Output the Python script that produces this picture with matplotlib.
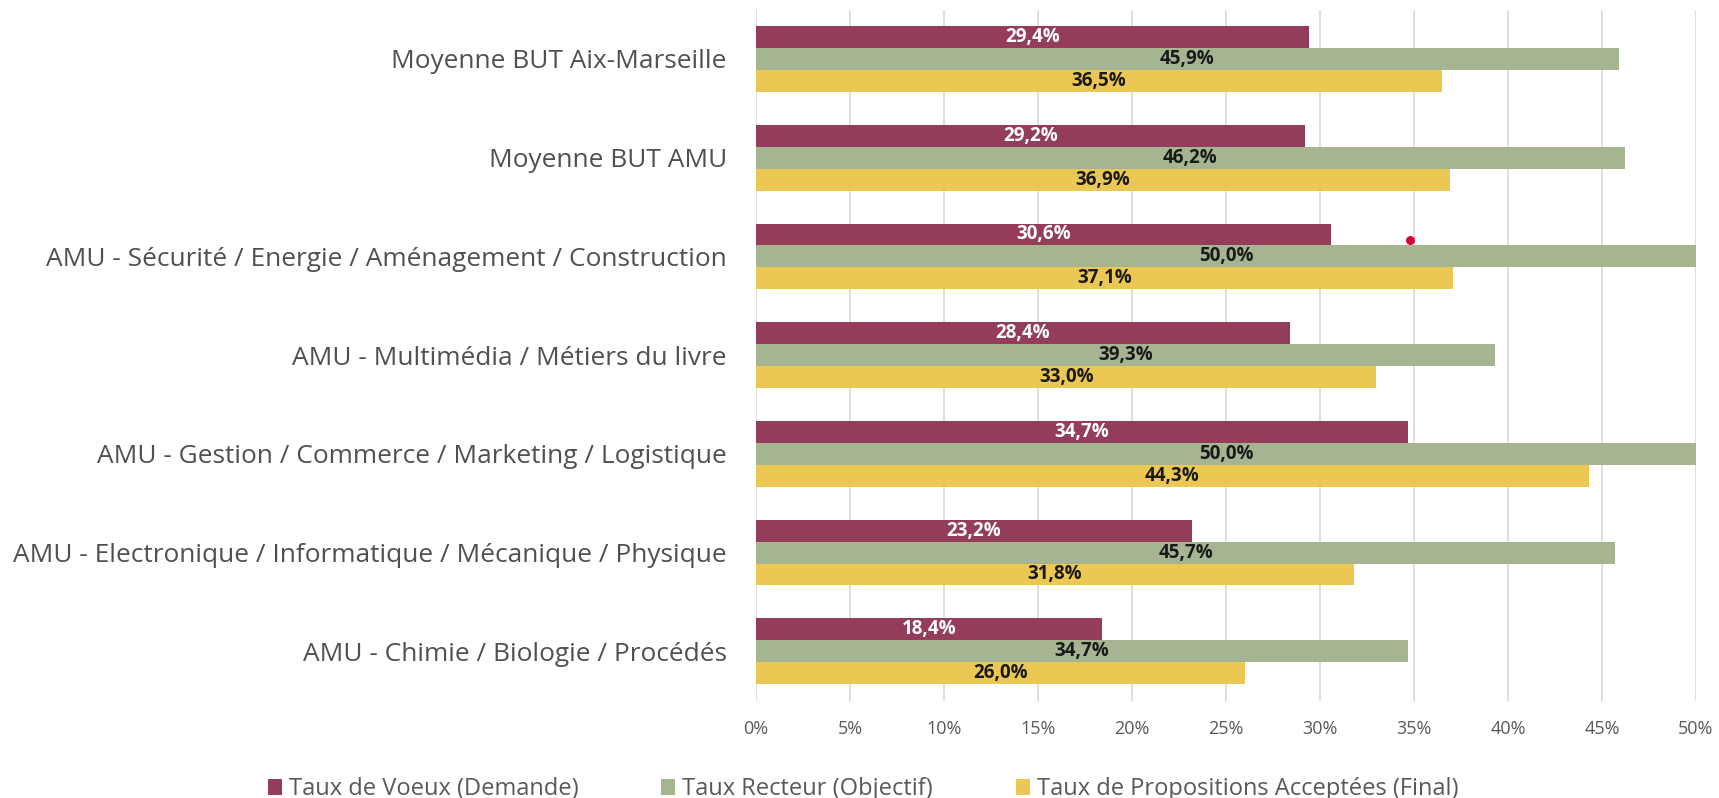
import matplotlib
matplotlib.use("Agg")
import matplotlib.pyplot as plt
from matplotlib.ticker import FuncFormatter
import numpy as np

categories = [
    "Moyenne BUT Aix-Marseille",
    "Moyenne BUT AMU",
    "AMU - Sécurité / Energie / Aménagement / Construction",
    "AMU - Multimédia / Métiers du livre",
    "AMU - Gestion / Commerce / Marketing / Logistique",
    "AMU - Electronique / Informatique / Mécanique / Physique",
    "AMU - Chimie / Biologie / Procédés",
]
voeux = [29.4, 29.2, 30.6, 28.4, 34.7, 23.2, 18.4]
recteur = [45.9, 46.2, 50.0, 39.3, 50.0, 45.7, 34.7]
acceptees = [36.5, 36.9, 37.1, 33.0, 44.3, 31.8, 26.0]
series_names = ["Taux de Voeux (Demande)", "Taux Recteur (Objectif)",
                "Taux de Propositions Acceptées (Final)"]
xticks = [0, 5, 10, 15, 20, 25, 30, 35, 40, 45, 50]
# stray marker visible in the chart
dot_x = [34.8]
dot_y = [1.83]

colors = ["#933D5A", "#A5B592", "#EBC853"]
label_colors = ["white", "#1a1a1a", "#1a1a1a"]
FONT = "Open Sans"

fig = plt.figure(figsize=(17.19, 7.98), dpi=100)
ax = fig.add_axes([0.4398, 0.122, 0.5468, 0.866])

y = np.arange(len(categories))
bh = 0.222
for k, (vals, off) in enumerate(zip([voeux, recteur, acceptees], [-bh, 0, bh])):
    bars = ax.barh(y + off, vals, height=bh, color=colors[k], label=series_names[k], zorder=2)
    for b, v in zip(bars, vals):
        ax.text(b.get_width() / 2, b.get_y() + b.get_height() / 2,
                f"{v:.1f}%".replace(".", ","), ha="center", va="center",
                color=label_colors[k], fontsize=13.5, fontweight="bold",
                family=FONT, zorder=3)

ax.scatter(dot_x, dot_y, s=30, color="#D6083B", zorder=4)

ax.set_xlim(0, 50)
ax.set_ylim(len(categories) - 0.5, -0.5)
ax.set_xticks(xticks)
ax.xaxis.set_major_formatter(FuncFormatter(lambda v, p: f"{v:.0f}%"))
ax.set_yticks(y)
ax.set_yticklabels(categories, family=FONT, fontsize=18.9, color="#505050")
for lab in ax.get_xticklabels():
    lab.set_family(FONT)
    lab.set_fontsize(13)
    lab.set_color("#595959")
ax.tick_params(axis="both", length=0)
ax.tick_params(axis="x", pad=14)
ax.tick_params(axis="y", pad=21)
ax.grid(axis="x", color="#D9D9D9", linewidth=1.2, zorder=0)
ax.set_axisbelow(True)
for s in ax.spines.values():
    s.set_visible(False)

fig.legend(loc="center", bbox_to_anchor=(0.502, 0.011), ncol=3, frameon=False,
           prop={"family": FONT, "size": 17}, handlelength=0.6, handleheight=0.7,
           handletextpad=0.3, columnspacing=3.5, labelcolor="#595959")

fig.savefig("out.png", dpi=100)
